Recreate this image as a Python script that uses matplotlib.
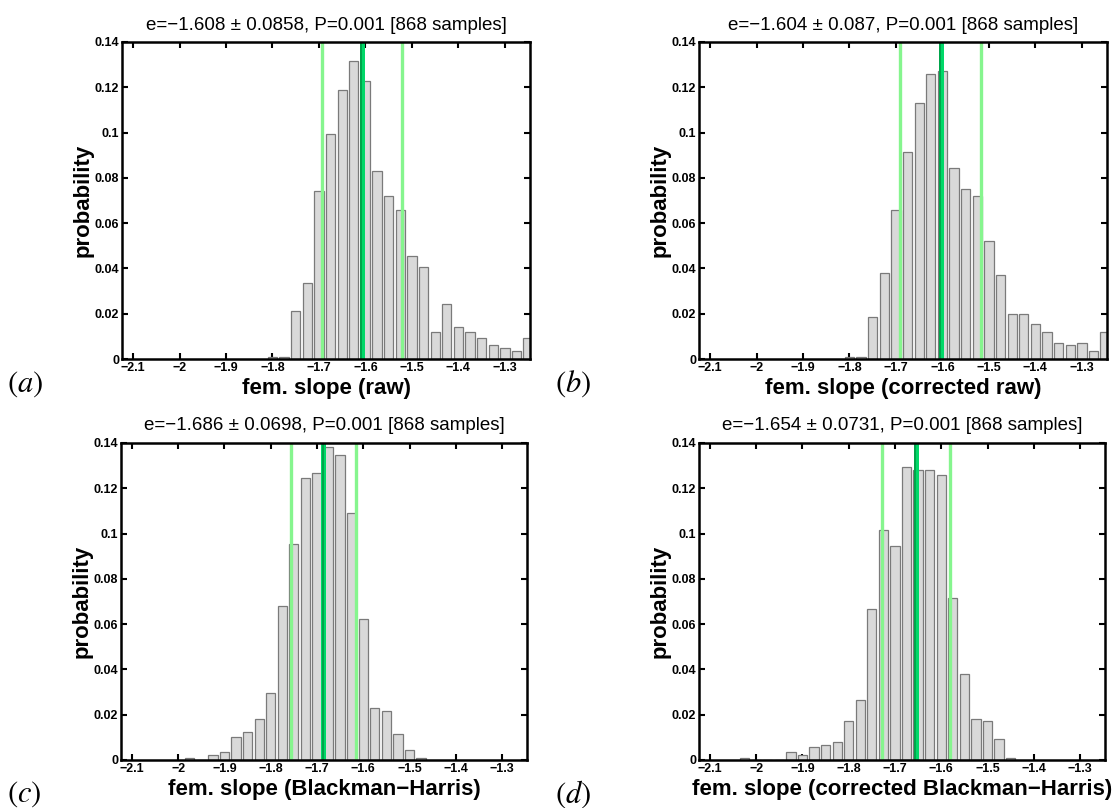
import matplotlib
matplotlib.use('Agg')
import matplotlib.pyplot as plt

plt.rcParams['font.family'] = ['Liberation Sans', 'DejaVu Sans']
plt.rcParams['mathtext.fontset'] = 'stix'

# ---------------- data ----------------
centers_a = [-1.8, -1.775, -1.75, -1.725, -1.7, -1.675, -1.65, -1.625, -1.6, -1.575,
             -1.55, -1.525, -1.5, -1.475, -1.45, -1.425, -1.4, -1.375, -1.35, -1.325,
             -1.3, -1.275, -1.25]
probs_a = [0.001, 0.001, 0.021, 0.0337, 0.0741, 0.0994, 0.119, 0.1318, 0.1226, 0.0832,
           0.0718, 0.066, 0.0453, 0.0406, 0.0118, 0.0244, 0.014, 0.0118, 0.0094, 0.006,
           0.0049, 0.0037, 0.0094]

centers_b = centers_a
probs_b = [0.001, 0.001, 0.0187, 0.0382, 0.066, 0.0913, 0.1131, 0.1259, 0.127, 0.0844,
           0.0751, 0.0718, 0.052, 0.0371, 0.0199, 0.0199, 0.0153, 0.0118, 0.0072, 0.006,
           0.0072, 0.0037, 0.0118]

centers_c = [-1.975, -1.95, -1.925, -1.9, -1.875, -1.85, -1.825, -1.8, -1.775, -1.75,
             -1.725, -1.7, -1.675, -1.65, -1.625, -1.6, -1.575, -1.55, -1.525, -1.5,
             -1.475]
probs_c = [0.001, 0.0, 0.002, 0.0034, 0.0102, 0.0125, 0.0183, 0.0298, 0.0678, 0.0956,
           0.1244, 0.1269, 0.1384, 0.1348, 0.1093, 0.0622, 0.0228, 0.0218, 0.0113, 0.0044,
           0.001]

centers_d = [-2.025, -2.0, -1.975, -1.95, -1.925, -1.9, -1.875, -1.85, -1.825, -1.8,
             -1.775, -1.75, -1.725, -1.7, -1.675, -1.65, -1.625, -1.6, -1.575, -1.55,
             -1.525, -1.5, -1.475, -1.45]
probs_d = [0.001, 0.0, 0.0, 0.0, 0.0034, 0.002, 0.0056, 0.0068, 0.0078, 0.0171,
           0.0264, 0.0668, 0.1015, 0.0946, 0.1292, 0.128, 0.128, 0.1257, 0.0715, 0.0379,
           0.0183, 0.0171, 0.0091, 0.001]

means = [-1.608, -1.604, -1.686, -1.654]
sds = [0.0858, 0.087, 0.0698, 0.0731]
mean_txt = ['\u22121.608', '\u22121.604', '\u22121.686', '\u22121.654']
sd_txt = ['0.0858', '0.087', '0.0698', '0.0731']
xlabels = ['fem. slope (raw)', 'fem. slope (corrected raw)',
           'fem. slope (Blackman\u2212Harris)', 'fem. slope (corrected Blackman\u2212Harris)']
panel_tags = ['a', 'b', 'c', 'd']

xticks = [-2.1, -2.0, -1.9, -1.8, -1.7, -1.6, -1.5, -1.4, -1.3]
xticklabels = ['\u22122.1', '\u22122', '\u22121.9', '\u22121.8', '\u22121.7', '\u22121.6',
               '\u22121.5', '\u22121.4', '\u22121.3']
yticks = [0, 0.02, 0.04, 0.06, 0.08, 0.1, 0.12, 0.14]
yticklabels = ['0', '0.02', '0.04', '0.06', '0.08', '0.1', '0.12', '0.14']

centers = [centers_a, centers_b, centers_c, centers_d]
probs = [probs_a, probs_b, probs_c, probs_d]

# ---------------- figure ----------------
W, H = 1117, 808
fig = plt.figure(figsize=(W / 100, H / 100), dpi=100)

boxes = [(122, 42, 530, 359), (699, 42, 1107, 359),
         (121, 443, 527, 760), (699, 443, 1105, 760)]
tag_pos = [(7, 384), (555, 384), (7, 794), (555, 794)]

for i in range(4):
    l, t, r, b = boxes[i]
    ax = fig.add_axes([l / W, 1 - b / H, (r - l) / W, (b - t) / H])
    ax.bar(centers[i], probs[i], width=0.02, color='#d9d9d9', edgecolor='#7a7a7a',
           linewidth=0.9, zorder=2)
    m, s = means[i], sds[i]
    ax.axvline(m - s, color='#86f58e', lw=2.4, zorder=3)
    ax.axvline(m + s, color='#86f58e', lw=2.4, zorder=3)
    ax.axvline(m, color='#00d868', lw=3.6, zorder=4)
    ax.axvline(m - 0.002, color='#00a048', lw=1.3, zorder=5)
    ax.set_xlim(-2.1237, -1.246)
    ax.set_ylim(0, 0.14)
    ax.set_xticks(xticks)
    ax.set_xticklabels(xticklabels)
    ax.set_yticks(yticks)
    ax.set_yticklabels(yticklabels)
    ax.tick_params(direction='in', top=True, right=True, length=4, width=1.5,
                   labelsize=9, pad=2)
    for lab in ax.get_xticklabels() + ax.get_yticklabels():
        lab.set_fontweight('bold')
    for sp in ax.spines.values():
        sp.set_linewidth(1.8)
        sp.set_zorder(6)
    ax.set_title('e=%s \u00b1 %s, P=0.001 [868 samples]' % (mean_txt[i], sd_txt[i]),
                 fontsize=13.5, pad=9)
    ax.set_xlabel(xlabels[i], fontsize=16, fontweight='bold', labelpad=3)
    ax.set_ylabel('probability', fontsize=16, fontweight='bold', labelpad=1)
    tx, ty = tag_pos[i]
    fig.text(tx / W, 1 - ty / H, '$(%s)$' % panel_tags[i], fontsize=22,
             ha='left', va='center')

fig.savefig('out.png', dpi=100)
